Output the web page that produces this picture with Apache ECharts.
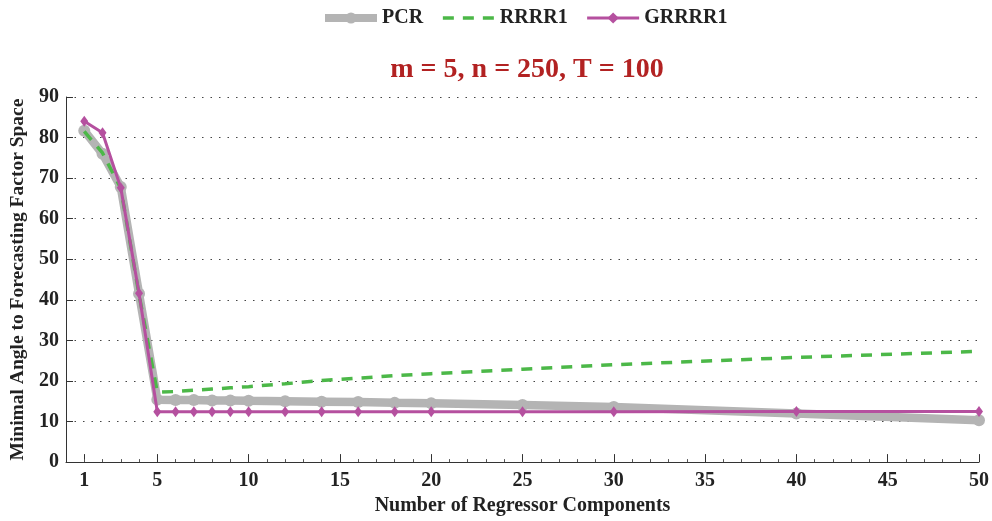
<!DOCTYPE html>
<html>
<head>
<meta charset="utf-8">
<script src="https://cdn.jsdelivr.net/npm/echarts@6/dist/echarts.min.js"></script>
<style>
  html, body { margin: 0; padding: 0; background: #fff; }
  #chart { width: 992px; height: 521px; }
</style>
</head>
<body>
<div id="chart"></div>
<script>
// number of regressor components
var components = [1, 2, 3, 4, 5, 6, 7, 8, 9, 10, 12, 14, 16, 18, 20, 25, 30, 40, 50];
var pcr    = [81.7, 76.0, 67.8, 41.5, 15.4, 15.3, 15.3, 15.2, 15.2, 15.1, 15.0, 14.9, 14.8, 14.6, 14.5, 14.1, 13.6, 12.0, 10.3];
var rrrr1  = [81.5, 76.2, 67.5, 41.3, 17.2, 17.4, 17.7, 18.0, 18.3, 18.6, 19.3, 20.1, 20.7, 21.3, 21.8, 22.9, 24.0, 25.8, 27.3];
var grrrr1 = [84.0, 81.2, 67.6, 41.6, 12.4, 12.4, 12.4, 12.4, 12.4, 12.4, 12.4, 12.4, 12.4, 12.4, 12.4, 12.4, 12.4, 12.5, 12.5];
var xTicks = [1, 5, 10, 15, 20, 25, 30, 35, 40, 45, 50];

function pairs(vals) {
    return components.map(function (c, i) { return [c, vals[i]]; });
}

var font = 'Liberation Serif';
var chart = echarts.init(document.getElementById('chart'));

chart.setOption({
    animation: false,
    textStyle: { fontFamily: font },
    title: {
        text: 'm = 5, n = 250, T = 100',
        left: 522, textAlign: 'center', top: 51,
        textStyle: { color: '#b22222', fontSize: 28, fontWeight: 'bold', fontFamily: font }
    },
    legend: {
        top: 3, left: 316,
        itemWidth: 52, itemHeight: 14, itemGap: 18,
        textStyle: { fontSize: 20, fontWeight: 'bold', color: '#222', fontFamily: font },
        data: [
            { name: 'PCR', lineStyle: { width: 8 } },
            { name: 'RRRR1', itemStyle: { opacity: 0 }, lineStyle: { width: 3.5 } },
            { name: 'GRRRR1', lineStyle: { width: 3 } }
        ]
    },
    grid: { left: 65, right: 12, top: 97, bottom: 52 },
    xAxis: {
        type: 'value', min: 0, max: 50, interval: 5,
        name: 'Number of Regressor Components',
        nameLocation: 'middle', nameGap: 33,
        nameTextStyle: { fontSize: 20, fontWeight: 'bold', color: '#222', fontFamily: font },
        axisLine: { lineStyle: { color: '#333', width: 1 } },
        axisTick: { inside: true, length: 8, customValues: xTicks, lineStyle: { color: '#333' } },
        minorTick: { show: true, splitNumber: 5, length: 3, lineStyle: { color: '#555' } },
        axisLabel: { customValues: xTicks, fontSize: 20, fontWeight: 'bold', color: '#222', margin: 9, fontFamily: font },
        splitLine: { show: false }
    },
    yAxis: {
        type: 'value', min: 0, max: 90, interval: 10,
        name: 'Minimal Angle to Forecasting Factor Space',
        nameLocation: 'middle', nameGap: 38,
        nameTextStyle: { fontSize: 19.5, fontWeight: 'bold', color: '#222', fontFamily: font },
        axisLine: { show: true, lineStyle: { color: '#333', width: 1 } },
        axisTick: { show: true, inside: true, length: 7, lineStyle: { color: '#333' } },
        axisLabel: { fontSize: 20, fontWeight: 'bold', color: '#222', margin: 7, fontFamily: font },
        splitLine: { show: true, lineStyle: { color: '#444', type: [1.5, 7], width: 1.2 } }
    },
    series: [
        {
            name: 'PCR', type: 'line', data: pairs(pcr),
            symbol: 'circle', symbolSize: 12,
            itemStyle: { color: '#b4b4b4' },
            lineStyle: { color: '#b4b4b4', width: 8.5 },
            z: 2
        },
        {
            name: 'RRRR1', type: 'line', data: pairs(rrrr1),
            symbol: 'none',
            itemStyle: { color: '#4cb848' },
            lineStyle: { color: '#4cb848', width: 3.5, type: [11, 9] },
            z: 3
        },
        {
            name: 'GRRRR1', type: 'line', data: pairs(grrrr1),
            symbol: 'diamond', symbolSize: [8, 11],
            itemStyle: { color: '#b5509f' },
            lineStyle: { color: '#b5509f', width: 3 },
            z: 4
        }
    ]
});
</script>
</body>
</html>
